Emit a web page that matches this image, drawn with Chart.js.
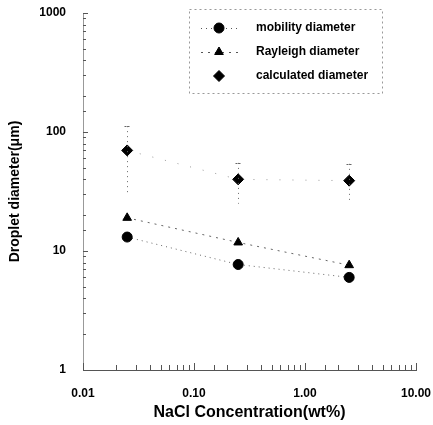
<!DOCTYPE html>
<html>
<head>
<meta charset="utf-8">
<script src="https://cdn.jsdelivr.net/npm/chart.js@4.4.0/dist/chart.umd.min.js"></script>
<style>
  html, body { margin: 0; padding: 0; background: #fff; overflow: hidden; }
  canvas { display: block; }
</style>
</head>
<body>
<canvas id="chart" width="433" height="425"></canvas>
<script>
// data
var concentration = [0.025, 0.25, 2.5];
var mobilityDiameter = [13.1, 7.7, 6.0];
var rayleighDiameter = [19, 11.8, 7.6];
var calculatedDiameter = [70, 40, 39];
var calculatedLow = [30, 25, 25];
var calculatedHigh = [112, 55, 54];
var xTickLabels = ['0.01', '0.10', '1.00', '10.00'];
var yTickLabels = ['1', '10', '100', '1000'];
var seriesNames = ['mobility diameter', 'Rayleigh diameter', 'calculated diameter'];

var FONT = "'Liberation Sans', Arial, sans-serif";

function toPoints(ys) {
    return concentration.map(function (x, i) { return { x: x, y: ys[i] }; });
}

function decadeLabel(value, labels, first) {
    var l = Math.log10(value);
    var r = Math.round(l);
    if (Math.abs(l - r) < 1e-6) return labels[r - first] || '';
    return '';
}

// inward tick marks, error bars and the boxed legend
var extras = {
    id: 'extras',
    afterDatasetsDraw: function (chart) {
        var ctx = chart.ctx;
        var xs = chart.scales.x, ys = chart.scales.y;
        var area = chart.chartArea;
        ctx.save();

        // inward ticks
        ctx.strokeStyle = '#555';
        ctx.lineWidth = 1;
        xs.ticks.forEach(function (t) {
            var px = Math.round(xs.getPixelForValue(t.value)) + 0.5;
            var major = decadeLabel(t.value, xTickLabels, -2) !== '';
            ctx.beginPath();
            ctx.moveTo(px, area.bottom);
            ctx.lineTo(px, area.bottom - (major ? 7 : 5));
            ctx.stroke();
        });
        ys.ticks.forEach(function (t) {
            var py = Math.round(ys.getPixelForValue(t.value)) + 0.5;
            var major = decadeLabel(t.value, yTickLabels, 0) !== '';
            ctx.beginPath();
            ctx.moveTo(area.left, py);
            ctx.lineTo(area.left + (major ? 5 : 3), py);
            ctx.stroke();
        });

        // error bars on calculated diameter (faint, dotted)
        ctx.strokeStyle = '#666';
        ctx.setLineDash([1, 4]);
        concentration.forEach(function (c, i) {
            var px = Math.round(xs.getPixelForValue(c)) + 0.5;
            var top = ys.getPixelForValue(calculatedHigh[i]);
            var bot = ys.getPixelForValue(calculatedLow[i]);
            ctx.beginPath();
            ctx.moveTo(px, top);
            ctx.lineTo(px, bot);
            ctx.stroke();
        });
        ctx.setLineDash([2, 1]);
        concentration.forEach(function (c, i) {
            var px = Math.round(xs.getPixelForValue(c)) + 0.5;
            var top = Math.round(ys.getPixelForValue(calculatedHigh[i])) + 0.5;
            ctx.beginPath();
            ctx.moveTo(px - 3, top);
            ctx.lineTo(px + 3, top);
            ctx.stroke();
        });
        ctx.setLineDash([]);

        // legend
        var lx = area.left + 106, ly = area.top - 4, lw = 193, lh = 84;
        ctx.strokeStyle = '#999';
        ctx.setLineDash([2, 3]);
        ctx.strokeRect(lx + 0.5, ly + 0.5, lw, lh);
        ctx.setLineDash([]);
        chart.data.datasets.forEach(function (ds, i) {
            var y = ly + 19 + i * 24;
            var mx = lx + 30;
            if (ds.legendLine) {
                ctx.strokeStyle = '#555';
                ctx.setLineDash(ds.borderDash || []);
                ctx.beginPath();
                ctx.moveTo(mx - 18, y + 0.5);
                ctx.lineTo(mx + 19, y + 0.5);
                ctx.stroke();
                ctx.setLineDash([]);
            }
            ctx.fillStyle = '#000';
            ctx.strokeStyle = '#000';
            Chart.helpers.drawPoint(ctx, {
                pointStyle: ds.pointStyle,
                radius: ds.pointRadius,
                rotation: ds.pointRotation || 0,
                borderWidth: 1
            }, mx, y);
            ctx.fillStyle = '#000';
            ctx.font = 'bold 12px ' + FONT;
            ctx.textBaseline = 'middle';
            ctx.textAlign = 'left';
            ctx.fillText(ds.label, lx + 67, y);
        });
        ctx.restore();
    }
};

new Chart(document.getElementById('chart').getContext('2d'), {
    type: 'scatter',
    data: {
        datasets: [{
            label: seriesNames[0],
            data: toPoints(mobilityDiameter),
            showLine: true,
            legendLine: true,
            borderColor: '#666',
            borderWidth: 1,
            borderDash: [1, 4],
            backgroundColor: '#000',
            pointBackgroundColor: '#000',
            pointBorderColor: '#000',
            pointStyle: 'circle',
            pointRadius: 5
        }, {
            label: seriesNames[1],
            data: toPoints(rayleighDiameter),
            showLine: true,
            legendLine: true,
            borderColor: '#666',
            borderWidth: 1,
            borderDash: [2, 5],
            backgroundColor: '#000',
            pointBackgroundColor: '#000',
            pointBorderColor: '#000',
            pointStyle: 'triangle',
            pointRadius: 5
        }, {
            label: seriesNames[2],
            data: toPoints(calculatedDiameter),
            showLine: true,
            legendLine: false,
            borderColor: '#999',
            borderWidth: 1,
            borderDash: [1, 12],
            backgroundColor: '#000',
            pointBackgroundColor: '#000',
            pointBorderColor: '#000',
            pointStyle: 'rectRot',
            pointRadius: 5.5
        }]
    },
    options: {
        responsive: false,
        animation: false,
        layout: { padding: { top: 13, right: 17, left: 0, bottom: 0 } },
        plugins: {
            legend: { display: false },
            tooltip: { enabled: false }
        },
        scales: {
            x: {
                type: 'logarithmic',
                min: 0.01,
                max: 10,
                border: { display: true, color: '#555', dash: [6, 3], width: 1 },
                grid: { display: false, drawTicks: false },
                ticks: {
                    autoSkip: false,
                    maxRotation: 0,
                    padding: 16,
                    color: '#000',
                    font: { family: FONT, size: 12, weight: 'bold' },
                    callback: function (v) { return decadeLabel(v, xTickLabels, -2); }
                },
                title: {
                    display: true,
                    text: 'NaCl Concentration(wt%)',
                    color: '#000',
                    padding: { top: 0, bottom: 3 },
                    font: { family: FONT, size: 16, weight: 'bold' }
                },
                afterFit: function (s) { s.height = 55; s.paddingLeft = 0; s.paddingRight = 0; }
            },
            y: {
                type: 'logarithmic',
                min: 1,
                max: 1000,
                border: { display: true, color: '#999', dash: [5, 3], width: 1 },
                grid: { display: false, drawTicks: false },
                ticks: {
                    autoSkip: false,
                    padding: 17,
                    color: '#000',
                    font: { family: FONT, size: 12, weight: 'bold' },
                    callback: function (v) { return decadeLabel(v, yTickLabels, 0); }
                },
                title: {
                    display: true,
                    text: 'Droplet diameter(μm)',
                    color: '#000',
                    padding: { top: 7, bottom: 0 },
                    font: { family: FONT, size: 14, weight: 'bold' }
                },
                afterFit: function (s) { s.width = 83; s.paddingTop = 0; s.paddingBottom = 0; }
            }
        }
    },
    plugins: [extras]
});
</script>
</body>
</html>
